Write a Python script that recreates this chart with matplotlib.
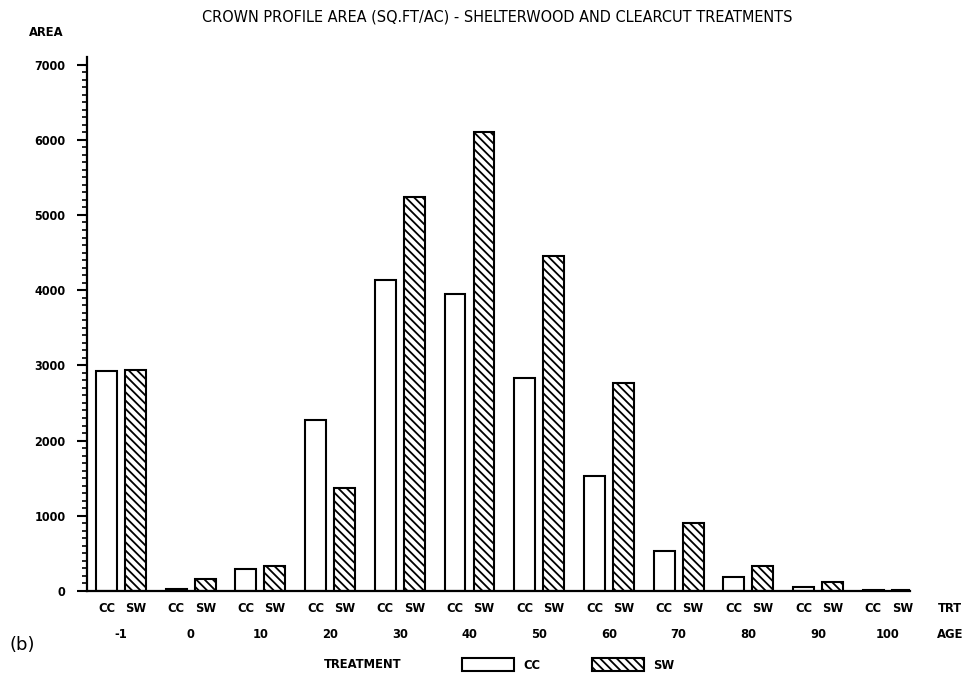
import matplotlib
matplotlib.use("Agg")
import matplotlib.pyplot as plt
import matplotlib.transforms as mtransforms
from matplotlib.patches import Patch
import numpy as np

# ---- data ----
ages = ["-1", "0", "10", "20", "30", "40", "50", "60", "70", "80", "90", "100"]
cc_values = [2930, 20, 290, 2280, 4140, 3950, 2830, 1530, 530, 190, 50, 10]
sw_values = [2940, 160, 330, 1370, 5240, 6100, 4460, 2770, 900, 330, 120, 10]
y_ticks = [0, 1000, 2000, 3000, 4000, 5000, 6000, 7000]
title = "CROWN PROFILE AREA (SQ.FT/AC) - SHELTERWOOD AND CLEARCUT TREATMENTS"

plt.rcParams["hatch.linewidth"] = 1.3
plt.rcParams["hatch.color"] = "black"

W, H = 974, 677
fig = plt.figure(figsize=(W / 100, H / 100), dpi=100)
ax = fig.add_axes([87 / W, 1 - 591 / H, (910 - 87) / W, (591 - 57) / H])

x = np.arange(len(ages))
off = 0.208
bw = 0.30
ax.bar(x - off, cc_values, width=bw, facecolor="white", edgecolor="black", linewidth=1.5)
ax.bar(x + off, sw_values, width=bw, facecolor="white", edgecolor="black", linewidth=1.5,
       hatch="\\\\\\\\")

ax.set_xlim(-0.488, 11.32)
ax.set_ylim(0, 7100)
ax.set_yticks(y_ticks)
ax.set_yticks(np.arange(0, 7001, 100), minor=True)
ax.set_xticks([])
for s in ["top", "right"]:
    ax.spines[s].set_visible(False)
for s in ["left", "bottom"]:
    ax.spines[s].set_linewidth(1.6)
ax.tick_params(axis="y", which="major", length=7, width=1.5, direction="out", pad=8.5)
ax.tick_params(axis="y", which="minor", length=3.5, width=1.2, direction="out")

font_kw = dict(fontfamily="DejaVu Sans", fontstretch="condensed", fontweight="bold")
for lab in ax.get_yticklabels():
    lab.set_fontfamily("DejaVu Sans")
    lab.set_fontstretch("condensed")
    lab.set_fontweight("bold")
    lab.set_fontsize(9)

tr = mtransforms.blended_transform_factory(ax.transData, fig.transFigure)
lab_kw = dict(fontsize=9.3, ha="center", va="center", **font_kw)
for i, a in enumerate(ages):
    ax.text(i - off, 1 - 608 / H, "CC", transform=tr, **lab_kw)
    ax.text(i + off, 1 - 608 / H, "SW", transform=tr, **lab_kw)
    ax.text(i, 1 - 635 / H, a, transform=tr, **lab_kw)
fig.text(950 / W, 1 - 608 / H, "TRT", **lab_kw)
fig.text(950 / W, 1 - 635 / H, "AGE", **lab_kw)
fig.text(22 / W, 1 - 645 / H, "(b)", fontfamily="DejaVu Sans", fontsize=13, ha="center", va="center")
fig.text(46 / W, 1 - 33 / H, "AREA", **lab_kw)
fig.text(497 / W, 1 - 17 / H, title, fontfamily="DejaVu Sans", fontstretch="condensed",
         fontsize=11.6, ha="center", va="center")

fig.text(363 / W, 1 - 665 / H, "TREATMENT", **lab_kw)
handles = [Patch(facecolor="white", edgecolor="black", linewidth=1.5),
           Patch(facecolor="white", edgecolor="black", linewidth=1.5, hatch="\\\\\\\\")]
fig.legend(handles, ["CC", "SW"], ncol=2, frameon=False, loc="center left",
           bbox_to_anchor=(462 / W, 1 - 665 / H), borderpad=0, borderaxespad=0,
           handlelength=4.0, handleheight=1.1, handletextpad=0.75, columnspacing=4.0,
           prop=dict(family="DejaVu Sans", stretch="condensed", weight="bold", size=9.3))

fig.savefig("out.png", dpi=100)
